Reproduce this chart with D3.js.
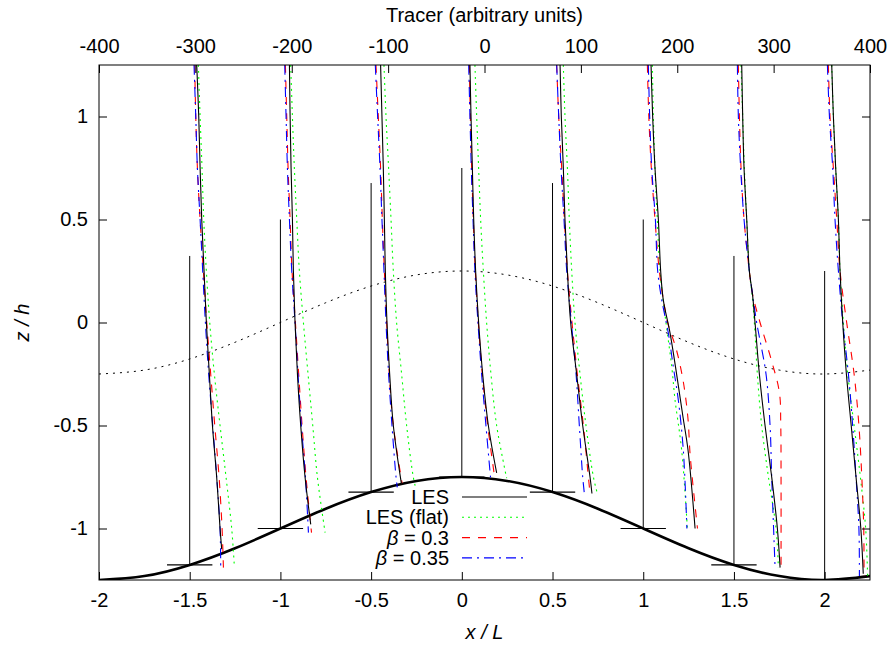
<!DOCTYPE html>
<html>
<head>
<meta charset="utf-8">
<script src="https://cdn.jsdelivr.net/npm/d3@7"></script>
<style>
    body { margin: 0; background: #fff; }
    #chart-area { width: 890px; height: 646px; }
    text { font-family: "Liberation Sans", Arial, sans-serif; font-size: 20px; fill: #000; }
</style>
</head>
<body>
<div id="chart-area"></div>
<script>

// profile stations (x / L) and the reference line under each one
const stations = [-1.5, -1, -0.5, 0, 0.5, 1, 1.5, 2];
const stationBase = [-1.177, -1, -0.823, -0.75, -0.823, -1, -1.177, -1.25];
const stationTop = [0.323, 0.5, 0.677, 0.75, 0.677, 0.5, 0.323, 0.25];

// hill surface and the dotted line above it
const hillX = [-2, -1.75, -1.5, -1.25, -1, -0.75, -0.5, -0.25, 0, 0.25, 0.5, 0.75, 1, 1.25, 1.5, 1.75, 2, 2.25];
const hillZ = [-1.25, -1.231, -1.177, -1.096, -1, -0.904, -0.823, -0.769, -0.75, -0.769, -0.823, -0.904, -1, -1.096, -1.177, -1.231, -1.25, -1.231];
const dottedZ = [-0.25, -0.231, -0.177, -0.096, 0, 0.096, 0.177, 0.231, 0.25, 0.231, 0.177, 0.096, 0, -0.096, -0.177, -0.231, -0.25, -0.231];

// tick labels
const xTicks = [-2, -1.5, -1, -0.5, 0, 0.5, 1, 1.5, 2];
const yTicks = [-1, -0.5, 0, 0.5, 1];
const tracerTicks = [-400, -300, -200, -100, 0, 100, 200, 300, 400];

// tracer profiles, one list of [z / h, tracer] per station
const lesProfiles = [
    [[1.25,-298.6],[1,-296.5],[0.75,-295.1],[0.5,-293.4],[0.25,-291.0],[0,-288.6],[-0.25,-285.5],[-0.5,-282.3],[-0.75,-277.9],[-1,-274.4],[-1.1,-272.7]],
    [[1.25,-202.4],[1,-201.7],[0.75,-200.7],[0.5,-199.3],[0.25,-198.3],[0,-196.6],[-0.25,-194.1],[-0.5,-190.7],[-0.75,-186.2],[-0.98,-180.3]],
    [[1.25,-107.8],[1,-106.4],[0.75,-105.0],[0.5,-103.9],[0.25,-102.9],[0,-101.2],[-0.25,-98.4],[-0.5,-94.6],[-0.78,-86.3]],
    [[1.25,-15.1],[1,-14.0],[0.75,-12.6],[0.5,-11.2],[0.25,-9.2],[0,-6.1],[-0.25,-1.9],[-0.5,4.0],[-0.73,12.6]],
    [[1.25,78.4],[1,79.7],[0.75,81.8],[0.5,83.5],[0.25,86.0],[0,89.4],[-0.25,95.6],[-0.5,101.9],[-0.75,109.5],[-0.83,111.5]],
    [[1.25,172.8],[1,174.5],[0.75,176.9],[0.5,180.4],[0.25,182.8],[0.11,185.5],[-0.05,192.5],[-0.265,199.8],[-0.46,206.0],[-0.62,211.2],[-1,218.5]],
    [[1.25,266.9],[1,267.9],[0.75,269.3],[0.5,272.1],[0.25,274.8],[0.14,278.0],[0,280.7],[-0.25,285.2],[-0.5,291.1],[-0.75,298.0],[-1,303.9],[-1.19,306.7]],
    [[1.25,360.3],[1,362.0],[0.75,364.4],[0.5,367.2],[0.25,368.9],[0,371.7],[-0.25,375.5],[-0.5,380.5],[-0.75,385.5],[-1,390.5],[-1.22,393]]
];

const lesFlatProfiles = [
    [[1.25,-296.9],[1,-295.1],[0.75,-293.1],[0.5,-291.3],[0.25,-288.6],[0,-285.1],[-0.25,-280.3],[-0.5,-274.4],[-0.75,-268.2],[-1,-262.3],[-1.19,-259.5]],
    [[1.25,-201.1],[1,-199.3],[0.75,-197.3],[0.5,-194.8],[0.25,-192.1],[0,-187.9],[-0.25,-183.1],[-0.5,-178.2],[-0.75,-173.4],[-1.02,-165.4]],
    [[1.25,-104.3],[1,-102.2],[0.75,-99.5],[0.5,-97.0],[0.25,-94.6],[0,-91.2],[-0.25,-86.0],[-0.5,-80.8],[-0.75,-73.9],[-0.81,-71.0]],
    [[1.25,-9.9],[1,-8.1],[0.75,-6.1],[0.5,-4.0],[0.25,-1.2],[0,2.2],[-0.25,6.7],[-0.5,12.6],[-0.756,23.0]],
    [[1.25,81.8],[1,83.5],[0.75,86.0],[0.5,88.0],[0.25,90.5],[0,93.9],[-0.25,99.1],[-0.5,105.3],[-0.75,113.0],[-0.83,117.1]],
    [[1.25,174.2],[1,175.2],[0.75,176.9],[0.5,179.3],[0.25,182.1],[0,188.3],[-0.215,194.3],[-0.376,197.7],[-0.62,204.6],[-1,210.5]],
    [[1.25,266.2],[1,267.9],[0.75,269.6],[0.5,272.1],[0.25,274.8],[0.14,277.5],[0,280.0],[-0.25,283.1],[-0.5,287.6],[-0.75,294.6],[-1,302.5],[-1.19,304.9]],
    [[1.25,360.3],[1,362.0],[0.75,364.4],[0.5,367.2],[0.25,368.9],[0,372.4],[-0.25,376.9],[-0.5,383.5],[-0.75,390],[-1,395.5],[-1.23,397.5]]
];

const beta030Profiles = [
    [[1.25,-300.7],[1,-299.6],[0.75,-297.9],[0.5,-295.1],[0.25,-291.7],[0,-288.2],[-0.25,-284.1],[-0.5,-279.9],[-0.75,-275.4],[-1,-272.3],[-1.19,-270.9]],
    [[1.25,-206.6],[1,-205.2],[0.75,-203.8],[0.5,-201.7],[0.25,-199.7],[0,-196.2],[-0.25,-192.8],[-0.5,-189.3],[-0.75,-185.2],[-1.02,-179.5]],
    [[1.25,-112.6],[1,-110.2],[0.75,-107.8],[0.5,-106.0],[0.25,-103.9],[0,-101.5],[-0.25,-98.8],[-0.5,-94.6],[-0.78,-85.5]],
    [[1.25,-15.7],[1,-14.7],[0.75,-13.3],[0.5,-11.6],[0.25,-9.5],[0,-6.4],[-0.25,-2.3],[-0.5,3.3],[-0.75,10.5]],
    [[1.25,74.9],[1,77.0],[0.75,80.1],[0.5,82.9],[0.25,86.0],[0,90.8],[-0.25,96.3],[-0.5,102.6],[-0.75,107.8],[-0.83,109.5]],
    [[1.25,169.0],[1,170.5],[0.75,173.1],[0.5,176.9],[0.25,181.4],[0.1,186],[0,190],[-0.13,199],[-0.28,206],[-0.46,211],[-0.65,213.5],[-1,221]],
    [[1.25,263.4],[1,264.5],[0.75,266.2],[0.5,269.3],[0.25,274.8],[0.14,278.0],[0,285.9],[-0.18,297.5],[-0.34,306.0],[-0.5,307.4],[-0.75,307.7],[-1.19,307.7]],
    [[1.25,356.8],[1,358.5],[0.75,362.0],[0.5,365.5],[0.25,368.9],[0,375.8],[-0.25,383.5],[-0.5,388.5],[-0.75,391.5],[-1,393.5],[-1.23,393.8]]
];

const beta035Profiles = [
    [[1.25,-301.4],[1,-299.6],[0.75,-297.9],[0.5,-295.1],[0.25,-292.4],[0,-289.6],[-0.25,-286.2],[-0.5,-282.0],[-0.75,-277.9],[-1,-274.4],[-1.19,-273.7]],
    [[1.25,-207.3],[1,-205.9],[0.75,-204.5],[0.5,-202.4],[0.25,-200.0],[0,-196.6],[-0.25,-193.5],[-0.5,-190.0],[-0.75,-185.8],[-1.02,-182.7]],
    [[1.25,-113.3],[1,-110.9],[0.75,-108.4],[0.5,-106.4],[0.25,-104.3],[0,-102.2],[-0.25,-99.5],[-0.5,-96.0],[-0.75,-91.8],[-0.8,-90.5]],
    [[1.25,-16.4],[1,-15.1],[0.75,-13.7],[0.5,-11.9],[0.25,-9.9],[0,-6.8],[-0.25,-3.0],[-0.5,1.5],[-0.76,6.4]],
    [[1.25,74.9],[1,77.0],[0.75,79.4],[0.5,82.5],[0.25,85.3],[0,90.1],[-0.25,95.0],[-0.5,98.4],[-0.75,101.9],[-0.83,103.6]],
    [[1.25,170.0],[1,171.4],[0.75,173.5],[0.5,177.3],[0.25,179.7],[0.11,183.9],[-0.05,190.7],[-0.215,195.9],[-0.376,201.1],[-0.62,206.3],[-1,210]],
    [[1.25,262.4],[1,263.4],[0.75,265.8],[0.5,269.3],[0.25,274.8],[0.14,278],[0,282.4],[-0.25,292.1],[-0.5,296.3],[-0.75,298.0],[-1.19,301.5]],
    [[1.25,355.8],[1,357.9],[0.75,361.3],[0.5,363.7],[0.25,367.2],[0,371.7],[-0.25,377.6],[-0.5,382],[-0.75,385.5],[-1,388.5],[-1.23,389.0]]
];

const seriesNames = ["LES", "LES (flat)", "β = 0.3", "β = 0.35"];


class TracerProfileVis {

    constructor(parentElement) {
        this.parentElement = parentElement;
        this.series = [
            {name: seriesNames[0], profiles: lesProfiles, color: "#000000", dash: null},
            {name: seriesNames[1], profiles: lesFlatProfiles, color: "#00ff00", dash: "2,4"},
            {name: seriesNames[2], profiles: beta030Profiles, color: "#ff0000", dash: "8,8"},
            {name: seriesNames[3], profiles: beta035Profiles, color: "#0000ff", dash: "10,5,2,5"}
        ];

        this.initVis();
    }

    initVis() {
        let vis = this;

        vis.margin = {top: 65, right: 20, bottom: 66, left: 99};
        vis.width = 890 - vis.margin.left - vis.margin.right;
        vis.height = 646 - vis.margin.top - vis.margin.bottom;

        vis.root = d3.select("#" + vis.parentElement).append("svg")
            .attr("width", 890)
            .attr("height", 646);

        vis.svg = vis.root.append("g")
            .attr("transform", "translate(" + vis.margin.left + "," + vis.margin.top + ")");

        // scales
        vis.x = d3.scaleLinear().domain([-2, 2.25]).range([0, vis.width]);
        vis.x2 = d3.scaleLinear().domain([-400, 400]).range([0, vis.width]);
        vis.y = d3.scaleLinear().domain([-1.25, 1.25]).range([vis.height, 0]);

        vis.svg.append("clipPath")
            .attr("id", "plot-clip")
            .append("rect")
            .attr("width", vis.width)
            .attr("height", vis.height);

        vis.plot = vis.svg.append("g").attr("clip-path", "url(#plot-clip)");

        vis.drawTerrain();
        vis.drawProfiles();
        vis.drawLegend();
        vis.drawAxes();
    }

    drawTerrain() {
        let vis = this;

        let hill = hillX.map((d, i) => ({x: d, z: hillZ[i], top: dottedZ[i]}));

        // dotted line
        vis.plot.append("path")
            .datum(hill)
            .attr("fill", "none")
            .attr("stroke", "#000")
            .attr("stroke-width", 1)
            .attr("stroke-dasharray", "2,5")
            .attr("d", d3.line().x(d => vis.x(d.x)).y(d => vis.y(d.top)).curve(d3.curveNatural));

        // reference line at each station
        vis.plot.selectAll(".station-line")
            .data(stations)
            .enter().append("line")
            .attr("class", "station-line")
            .attr("x1", d => vis.x(d))
            .attr("x2", d => vis.x(d))
            .attr("y1", (d, i) => vis.y(stationBase[i]))
            .attr("y2", (d, i) => vis.y(stationTop[i]))
            .attr("stroke", "#000")
            .attr("stroke-width", 1);

        vis.plot.selectAll(".station-foot")
            .data(stations)
            .enter().append("line")
            .attr("class", "station-foot")
            .attr("x1", d => vis.x(d - 0.125))
            .attr("x2", d => vis.x(d + 0.125))
            .attr("y1", (d, i) => vis.y(stationBase[i]))
            .attr("y2", (d, i) => vis.y(stationBase[i]))
            .attr("stroke", "#000")
            .attr("stroke-width", 1.2);

        // hill surface
        vis.plot.append("path")
            .datum(hill)
            .attr("fill", "none")
            .attr("stroke", "#000")
            .attr("stroke-width", 2.6)
            .attr("d", d3.line().x(d => vis.x(d.x)).y(d => vis.y(d.z)).curve(d3.curveNatural));
    }

    drawProfiles() {
        let vis = this;

        vis.profileLine = d3.line()
            .x(d => vis.x2(d[1]))
            .y(d => vis.y(d[0]))
            .curve(d3.curveCatmullRom.alpha(0.5));

        // LES (flat) first, black LES last so it sits on top
        let order = [1, 2, 3, 0];
        order.forEach(k => {
            let s = vis.series[k];
            vis.plot.append("g")
                .attr("class", "profiles")
                .selectAll("path")
                .data(s.profiles)
                .enter().append("path")
                .attr("fill", "none")
                .attr("stroke", s.color)
                .attr("stroke-width", 1.1)
                .attr("stroke-dasharray", s.dash)
                .attr("d", vis.profileLine);
        });
    }

    drawLegend() {
        let vis = this;

        let legend = vis.svg.append("g")
            .attr("transform", "translate(350,432)");

        let rows = legend.selectAll(".legend-row")
            .data(vis.series)
            .enter().append("g")
            .attr("class", "legend-row")
            .attr("transform", (d, i) => "translate(0," + (i * 20.3) + ")");

        rows.append("line")
            .attr("x1", 13)
            .attr("x2", 78)
            .attr("stroke", d => d.color)
            .attr("stroke-width", 1.1)
            .attr("stroke-dasharray", d => d.dash);

        rows.append("text")
            .attr("text-anchor", "end")
            .attr("dy", "0.35em")
            .each(function(d) {
                let t = d3.select(this);
                if (d.name.startsWith("β")) {
                    t.append("tspan").attr("font-style", "italic").text("β");
                    t.append("tspan").text(d.name.slice(1));
                } else {
                    t.text(d.name);
                }
            });
    }

    drawAxes() {
        let vis = this;

        vis.svg.append("g")
            .attr("class", "x-axis axis")
            .attr("transform", "translate(0," + vis.height + ")")
            .call(d3.axisBottom(vis.x).tickValues(xTicks).tickSize(-8).tickPadding(13).tickFormat(d => String(d)))
            .call(g => g.select(".domain").remove());

        vis.svg.append("g")
            .attr("class", "x2-axis axis")
            .call(d3.axisTop(vis.x2).tickValues(tracerTicks).tickSize(-8).tickPadding(12).tickFormat(d => String(d)))
            .call(g => g.select(".domain").remove());

        vis.svg.append("g")
            .attr("class", "y-axis axis")
            .call(d3.axisLeft(vis.y).tickValues(yTicks).tickSize(-8).tickPadding(11).tickFormat(d => String(d)))
            .call(g => g.select(".domain").remove());

        vis.svg.append("g")
            .attr("class", "y-axis-right axis")
            .attr("transform", "translate(" + vis.width + ",0)")
            .call(d3.axisRight(vis.y).tickValues(yTicks).tickSize(-8).tickFormat(""))
            .call(g => g.select(".domain").remove());

        // frame
        vis.svg.append("rect")
            .attr("width", vis.width)
            .attr("height", vis.height)
            .attr("fill", "none")
            .attr("stroke", "#000")
            .attr("stroke-width", 1);

        // axis titles
        vis.root.append("text")
            .attr("x", vis.margin.left + vis.width / 2)
            .attr("y", 21.5)
            .attr("text-anchor", "middle")
            .text("Tracer (arbitrary units)");

        vis.root.append("text")
            .attr("x", vis.margin.left + vis.width / 2)
            .attr("y", 638.5)
            .attr("text-anchor", "middle")
            .attr("font-style", "italic")
            .text("x / L");

        vis.root.append("text")
            .attr("transform", "translate(29," + (vis.margin.top + vis.height / 2) + ") rotate(-90)")
            .attr("text-anchor", "middle")
            .attr("font-style", "italic")
            .text("z / h");
    }
}

new TracerProfileVis("chart-area");

</script>
</body>
</html>
